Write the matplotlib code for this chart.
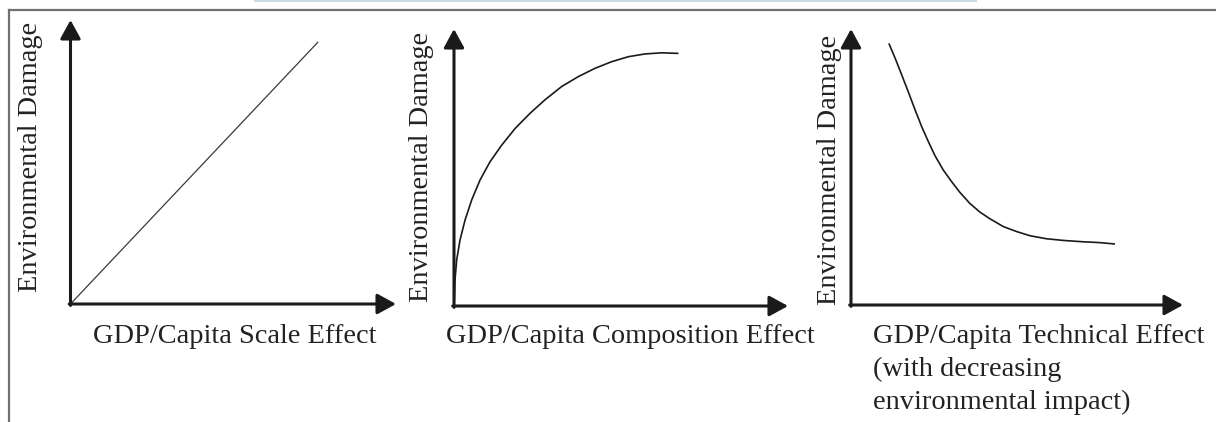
import matplotlib
matplotlib.use("Agg")
import matplotlib.pyplot as plt
from matplotlib.lines import Line2D

plt.rcParams["font.family"] = ["Liberation Serif", "DejaVu Serif"]

W, H = 1216, 422

# values, each axis scaled 0-100 up to its arrow tip
scale_x = [0, 76.1]
scale_y = [0, 92.3]

comp_x = [0, 0.1, 0.3, 0.8, 1.8, 3.3, 5.3, 7.8, 10.8, 14.3, 18.3, 22.8, 27.2,
          32.2, 37.2, 42.2, 47.2, 52.2, 57.2, 62.2, 67.2]
comp_y = [0, 2.2, 9.4, 16.6, 23.8, 31.0, 38.3, 45.5, 52.1, 58.1, 64.1, 69.6, 74.4,
          79.2, 82.8, 85.8, 88.2, 90.0, 91.0, 91.4, 91.2]

tech_x = [11.4, 13.3, 15.3, 17.3, 19.3, 21.3, 23.3, 25.3, 27.8, 30.3, 32.8, 35.8,
          38.9, 41.9, 45.9, 49.9, 53.9, 58.9, 63.9, 70.0, 75.0, 79.5]
tech_y = [94.8, 89.4, 83.3, 77.1, 70.7, 64.6, 59.2, 54.1, 48.9, 44.7, 40.8, 36.8,
          33.6, 31.2, 28.4, 26.6, 25.1, 24.0, 23.4, 22.9, 22.6, 22.1]

y_label = "Environmental Damage"
x_labels = [
    ["GDP/Capita Scale Effect"],
    ["GDP/Capita Composition Effect"],
    ["GDP/Capita Technical Effect", "(with decreasing", "environmental impact)"],
]

# panel boxes in pixels: origin x, origin y, x arrow tip, y arrow tip
panels = [(70.5, 304, 396, 20), (454, 306, 788, 29), (851, 305, 1183, 29)]
series = [(scale_x, scale_y, 0.9, "#3a3a3a"),
          (comp_x, comp_y, 1.2, "#1a1a1a"),
          (tech_x, tech_y, 1.2, "#1a1a1a")]
ylabel_pos = [(31, 157), (422, 167), (830, 170)]
xlabel_pos = [(235, 343, "center"), (630, 343, "center"), (873, 343, "left")]
line_step = 33

fig = plt.figure(figsize=(W / 100, H / 100), dpi=100)

# frame around the figure and the thin header strip
fig.add_artist(Line2D([9 / W, 1], [1 - 10 / H, 1 - 10 / H], color="#707070", lw=1.6))
fig.add_artist(Line2D([9 / W, 9 / W], [0, 1 - 10 / H], color="#707070", lw=1.6))
fig.add_artist(Line2D([255 / W, 976 / W], [1 - 0.8 / H, 1 - 0.8 / H], color="#c9dbe6", lw=1.4))

arrow = dict(arrowstyle="-|>,head_length=0.95,head_width=0.52", mutation_scale=12,
             lw=2.2, color="#1a1a1a", shrinkA=0, shrinkB=0)

for (ox, oy, tx, ty), (xs, ys, lw, col) in zip(panels, series):
    ax = fig.add_axes([ox / W, 1 - oy / H, (tx - ox) / W, (oy - ty) / H])
    ax.set_xlim(0, 100)
    ax.set_ylim(0, 100)
    ax.axis("off")
    ax.plot(xs, ys, color=col, lw=lw, solid_capstyle="butt", solid_joinstyle="round")
    ax.annotate("", xy=(1, 0), xytext=(-0.004, 0), xycoords="axes fraction",
                arrowprops=arrow, annotation_clip=False)
    ax.annotate("", xy=(0, 1), xytext=(0, -0.005), xycoords="axes fraction",
                arrowprops=arrow, annotation_clip=False)

for x, y in ylabel_pos:
    fig.text(x / W, 1 - y / H, y_label, rotation=90, ha="center", va="center",
             fontsize=20.4, color="#222222")

for (x, y, ha), lines in zip(xlabel_pos, x_labels):
    for i, txt in enumerate(lines):
        fig.text(x / W, 1 - (y + i * line_step) / H, txt, ha=ha, va="baseline",
                 fontsize=20.4, color="#222222")

fig.savefig("out.png", dpi=100)
